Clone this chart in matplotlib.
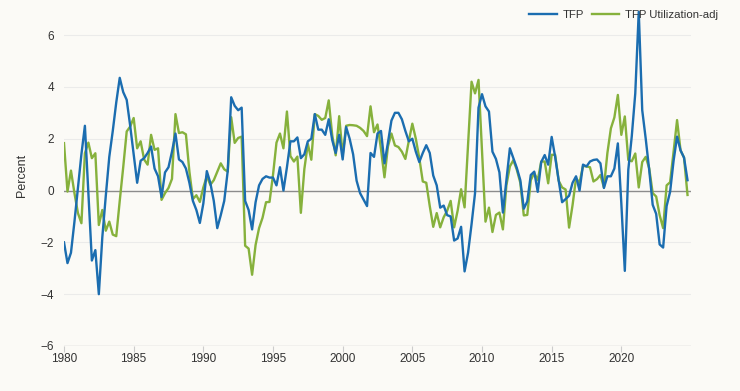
import numpy as np
import matplotlib
matplotlib.use("Agg")
import matplotlib.pyplot as plt

start_year = 1980  # first quarter: 1980Q1, quarterly data

tfp = [
    -2.0, -2.8, -2.4, -1.2, 0.1, 1.4, 2.5, -0.1, -2.7, -2.3,
    -4.0, -1.8, -0.2, 1.3, 2.3, 3.4, 4.35, 3.8, 3.5, 2.5,
    1.4, 0.3, 1.15, 1.25, 1.45, 1.7, 0.85, 0.55, -0.25, 0.7,
    0.9, 1.5, 2.2, 1.2, 1.1, 0.85, 0.3, -0.4, -0.75, -1.25,
    -0.5, 0.75, 0.3, -0.4, -1.45, -0.95, -0.4, 0.75, 3.6, 3.27,
    3.1, 3.2, -0.4, -0.75, -1.5, -0.45, 0.2, 0.45, 0.55, 0.5,
    0.5, 0.2, 0.9, 0.0, 0.9, 1.9, 1.9, 2.05, 1.25, 1.4,
    1.9, 2.0, 2.95, 2.35, 2.35, 2.15, 2.75, 1.95, 1.45, 2.15,
    1.2, 2.45, 2.0, 1.4, 0.38, -0.1, -0.35, -0.6, 1.45, 1.3,
    2.2, 2.3, 1.05, 1.85, 2.7, 3.0, 3.0, 2.75, 2.3, 1.9,
    2.0, 1.5, 1.1, 1.45, 1.75, 1.45, 0.58, 0.2, -0.66, -0.58,
    -0.95, -1.0, -1.93, -1.85, -1.4, -3.12, -2.4, -1.3, -0.1, 3.2,
    3.72, 3.25, 3.05, 1.5, 1.22, 0.7, -0.85, 0.4, 1.63, 1.25,
    0.87, 0.4, -0.7, -0.42, 0.6, 0.73, -0.05, 1.1, 1.37, 1.0,
    2.07, 1.3, 0.4, -0.45, -0.33, -0.2, 0.3, 0.55, 0.0, 1.0,
    0.93, 1.12, 1.18, 1.2, 1.05, 0.1, 0.55, 0.55, 0.85, 1.82,
    -0.5, -3.1, 0.8, 2.1, 3.75, 6.9, 3.1, 2.0, 0.8, -0.55,
    -0.9, -2.08, -2.2, -0.6, -0.05, 1.15, 2.08, 1.55, 1.27, 0.4,
]

tfp_util_adj = [
    1.83, -0.04, 0.77, -0.1, -0.87, -1.26, 1.44, 1.85, 1.25, 1.44,
    -1.33, -0.75, -1.55, -1.2, -1.7, -1.76, -0.4, 0.9, 2.28, 2.47,
    2.8, 1.63, 1.9, 1.2, 1.0, 2.15, 1.57, 1.63, -0.36, -0.1,
    0.1, 0.45, 2.95, 2.22, 2.25, 2.17, 0.73, -0.33, -0.18, -0.44,
    0.12, 0.55, 0.22, 0.4, 0.73, 1.05, 0.82, 0.73, 2.83, 1.84,
    2.03, 2.08, -2.13, -2.24, -3.25, -2.1, -1.45, -1.05, -0.45, -0.44,
    0.6, 1.85, 2.2, 1.63, 3.05, 1.33, 1.12, 1.31, -0.86, 0.83,
    1.8, 1.19, 2.95, 2.88, 2.73, 2.8, 3.48, 2.14, 1.36, 2.87,
    1.37, 2.5, 2.53, 2.52, 2.5, 2.42, 2.3, 2.1, 3.25, 2.25,
    2.55, 1.6, 0.51, 1.7, 2.2, 1.74, 1.68, 1.5, 1.22, 1.92,
    2.58, 2.0, 1.25, 0.35, 0.3, -0.6, -1.4, -0.87, -1.42, -1.03,
    -0.78, -0.4, -1.42, -0.78, 0.05, -0.65, 1.8, 4.2, 3.75, 4.27,
    1.5, -1.2, -0.66, -1.6, -0.94, -0.85, -1.5, 0.2, 0.93, 1.17,
    0.8, 0.3, -0.96, -0.94, 0.4, 0.68, 0.4, 1.12, 1.12, 0.28,
    1.38, 1.38, 0.38, 0.12, 0.04, -1.43, -0.56, 0.48, 0.3, 0.95,
    0.93, 0.9, 0.35, 0.44, 0.6, 0.12, 1.45, 2.4, 2.82, 3.69,
    2.15, 2.86, 1.18, 1.13, 1.43, 0.12, 1.1, 1.3, 0.86, -0.1,
    -0.23, -0.95, -1.45, 0.2, 0.32, 1.5, 2.72, 1.55, 1.27, -0.17,
]

x_ticks = [1980, 1985, 1990, 1995, 2000, 2005, 2010, 2015, 2020]
y_ticks = [-6, -4, -2, 0, 2, 4, 6]
series_labels = ["TFP", "TFP Utilization-adj"]

plt.rcParams['font.family'] = ['Liberation Sans', 'DejaVu Sans']

bg = '#fbfaf6'
blue = '#1b6db0'
green = '#86b13c'
txt = '#333333'

fig = plt.figure(figsize=(7.4, 3.91), dpi=100, facecolor=bg)
ax = fig.add_axes([64 / 740, 45 / 391, 627 / 740, 342 / 391])
ax.set_facecolor(bg)

x = start_year + np.arange(len(tfp)) / 4.0

for yv in y_ticks:
    if yv == -6:
        ax.axhline(yv, color='#cccccc', lw=1.0, zorder=1)
    elif yv == 0:
        ax.axhline(yv, color='#8c8c8c', lw=1.0, zorder=1)
    else:
        ax.axhline(yv, color='#ebebea', lw=0.8, zorder=1)

l1, = ax.plot(x, tfp, color=blue, lw=1.7, zorder=3, label=series_labels[0])
l2, = ax.plot(x, tfp_util_adj, color=green, lw=1.7, zorder=2, label=series_labels[1])

ax.set_xlim(1980, 2025)
ax.set_ylim(-6, 7.2)
ax.set_xticks(x_ticks)
ax.set_xticklabels([str(t) for t in x_ticks])
ax.set_yticks(y_ticks)
ax.set_yticklabels(['\u2212' + str(abs(t)) if t < 0 else str(t) for t in y_ticks])

for s in ax.spines.values():
    s.set_visible(False)

ax.tick_params(axis='x', length=4, width=0.8, color='#cccccc', labelsize=8.5,
               labelcolor=txt, pad=1)
ax.tick_params(axis='y', length=0, labelsize=8.5, labelcolor=txt, pad=7)

ax.set_ylabel('Percent', fontsize=9, color=txt, labelpad=9)

fig.legend(handles=[l1, l2], labels=series_labels, loc='upper right',
           bbox_to_anchor=(728 / 740, 1 - 0 / 391), ncol=2, frameon=False,
           fontsize=8.2, handlelength=2.4, handletextpad=0.5, columnspacing=0.7,
           labelcolor=txt)

fig.savefig('out.png', dpi=100, facecolor=bg)
